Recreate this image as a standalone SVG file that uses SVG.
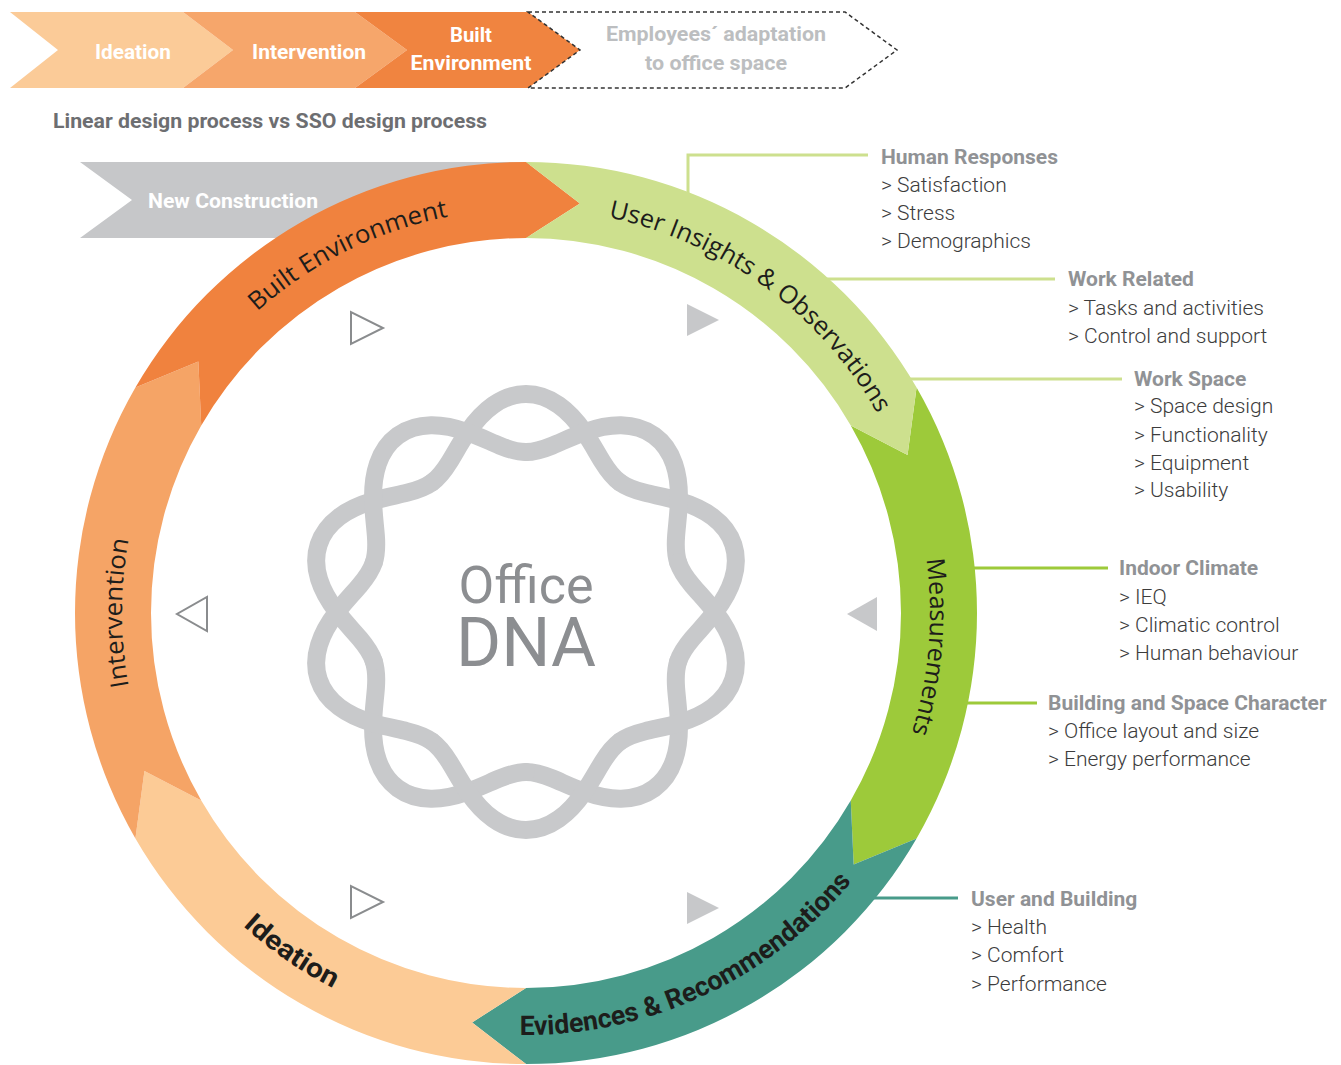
<svg xmlns="http://www.w3.org/2000/svg" width="1341" height="1065" viewBox="0 0 1341 1065">
<style>
.ban{font-family:Roboto,"Liberation Sans",sans-serif;font-weight:700;font-size:20px;fill:#ffffff;text-anchor:middle}
.ban2{font-family:Roboto,"Liberation Sans",sans-serif;font-weight:700;font-size:20px;fill:#bcbec0;text-anchor:middle}
.title{font-family:Roboto,"Liberation Sans",sans-serif;font-weight:700;font-size:20px;fill:#6d6e71}
.hdr{font-family:Roboto,"Liberation Sans",sans-serif;font-weight:700;font-size:21px;fill:#909295}
.itm{font-family:Roboto,"Liberation Sans",sans-serif;font-weight:300;font-size:21px;fill:#3c3c3c}
.ring{font-family:"Open Sans","Liberation Sans",sans-serif;font-size:25px;fill:#1d1d1b;text-anchor:middle}
.ringb{font-family:Roboto,"Liberation Sans",sans-serif;font-weight:700;font-size:27px;fill:#1d1d1b;text-anchor:middle}
.lnk{fill:none;stroke-width:3}
.lg{stroke:#cde08e}.lm{stroke:#9dca3a}.lt{stroke:#489b8a}
.trio{fill:#ffffff;stroke:#8a8c8e;stroke-width:2;stroke-linejoin:miter}
.trif{fill:#c7c8ca}
.dna{fill:none;stroke:#c8c9cb;stroke-width:18;stroke-linecap:round}
.dnat{font-family:Roboto,"Liberation Sans",sans-serif;fill:#8c8e91;text-anchor:middle}
</style>
<defs>
<path id="lobe" d="M -94.05,-129.44 C -87.27,-134.37 -81.92,-141.34 -76.5,-150.13 C -71.07,-158.92 -65.47,-169.47 -58.41,-179.75 C -51.34,-190.03 -42.77,-199.91 -32.77,-206.93 C -22.78,-213.95 -11.41,-218 0,-218 C 11.41,-218 22.78,-213.95 32.77,-206.93 C 42.77,-199.91 51.34,-190.03 58.41,-179.75 C 65.47,-169.47 71.07,-158.92 76.5,-150.13 C 81.92,-141.34 87.27,-134.37 94.05,-129.44"/>
<path id="cw" d="M 526,1017 A 404 404 0 0 1 122,613 A 404 404 0 0 1 526,209 A 404 404 0 0 1 930,613 A 404 404 0 0 1 526,1017"/>
<path id="ccw" d="M 104,613 A 422 422 0 0 0 526,1035 A 422 422 0 0 0 948,613"/>
</defs>

<g id="banner">
  <g id="ban-ideation">
    <polygon points="10,12 183,12 233,50 183,88 10,88 58,50" fill="#fbcb98"/>
    <text class="ban" x="133" y="59" textLength="76" lengthAdjust="spacingAndGlyphs">Ideation</text>
  </g>
  <g id="ban-intervention">
    <polygon points="183,12 355,12 407,50 355,88 183,88 233,50" fill="#f6a66b"/>
    <text class="ban" x="309" y="59" textLength="114" lengthAdjust="spacingAndGlyphs">Intervention</text>
  </g>
  <g id="ban-built">
    <polygon points="355,12 528,12 580,50 528,88 355,88 407,50" fill="#f08440"/>
    <text class="ban" x="471" y="42" textLength="42" lengthAdjust="spacingAndGlyphs">Built</text>
    <text class="ban" x="471" y="70" textLength="121" lengthAdjust="spacingAndGlyphs">Environment</text>
  </g>
  <g id="ban-adaptation">
    <polygon points="528,12 845,12 897,50 845,88 528,88 580,50" fill="none" stroke="#333333" stroke-width="1.5" stroke-dasharray="4 3"/>
    <text class="ban2" x="716" y="41" textLength="220" lengthAdjust="spacingAndGlyphs">Employees´ adaptation</text>
    <text class="ban2" x="716" y="70" textLength="142" lengthAdjust="spacingAndGlyphs">to office space</text>
  </g>
</g>

<g id="title">
  <text class="title" x="53" y="128" textLength="434" lengthAdjust="spacingAndGlyphs">Linear design process vs SSO design process</text>
</g>

<g id="new-construction">
  <polygon points="80,162 530,162 530,238 80,238 132,200" fill="#c6c7c9"/>
  <text class="ban" x="233" y="208" textLength="170" lengthAdjust="spacingAndGlyphs">New Construction</text>
</g>

<g id="connectors">
  <polyline class="lnk lg" points="688,196 688,155 868,155"/>
  <line class="lnk lg" x1="820" y1="279" x2="1055" y2="279"/>
  <line class="lnk lg" x1="905" y1="379" x2="1122" y2="379"/>
  <line class="lnk lm" x1="968" y1="568" x2="1108" y2="568"/>
  <line class="lnk lm" x1="960" y1="703" x2="1037" y2="703"/>
  <line class="lnk lt" x1="868" y1="898" x2="958" y2="898"/>
</g>

<g id="ring">
  <g id="seg-measurements"><path d="M 916.58,387.5 A 451 451 0 0 1 916.58,838.5 L 853.65,864.42 L 850.76,800.5 A 375 375 0 0 0 850.76,425.5 L 907.56,454.95 Z" fill="#9dca3a"/>
    <text class="ring"><textPath href="#cw" startOffset="1936.9" textLength="176" lengthAdjust="spacingAndGlyphs">Measurements</textPath></text></g>
  <g id="seg-evidences"><path d="M 916.58,838.5 A 451 451 0 0 1 526,1064 L 472.09,1022.47 L 526,988 A 375 375 0 0 0 850.76,800.5 L 853.65,864.42 Z" fill="#489b8a"/>
    <text class="ringb"><textPath href="#ccw" startOffset="845.5" textLength="378" lengthAdjust="spacingAndGlyphs">Evidences &amp; Recommendations</textPath></text></g>
  <g id="seg-ideation"><path d="M 526,1064 A 451 451 0 0 1 135.42,838.5 L 144.44,771.05 L 201.24,800.5 A 375 375 0 0 0 526,988 L 472.09,1022.47 Z" fill="#fccb96"/>
    <text class="ringb"><textPath href="#ccw" startOffset="407.3" textLength="110" lengthAdjust="spacingAndGlyphs">Ideation</textPath></text></g>
  <g id="seg-intervention"><path d="M 135.42,838.5 A 451 451 0 0 1 135.42,387.5 L 198.35,361.58 L 201.24,425.5 A 375 375 0 0 0 201.24,800.5 L 144.44,771.05 Z" fill="#f5a466"/>
    <text class="ring"><textPath href="#cw" startOffset="634.6" textLength="148" lengthAdjust="spacingAndGlyphs">Intervention</textPath></text></g>
  <g id="seg-built"><path d="M 135.42,387.5 A 451 451 0 0 1 526,162 L 579.91,203.53 L 526,238 A 375 375 0 0 0 201.24,425.5 L 198.35,361.58 Z" fill="#f0823e"/>
    <text class="ring"><textPath href="#cw" startOffset="1082.4" textLength="216" lengthAdjust="spacingAndGlyphs">Built Environment</textPath></text></g>
  <g id="seg-insights"><path d="M 526,162 A 451 451 0 0 1 916.58,387.5 L 907.56,454.95 L 850.76,425.5 A 375 375 0 0 0 526,238 L 579.91,203.53 Z" fill="#cde08e"/>
    <text class="ring"><textPath href="#cw" startOffset="1523.1" textLength="343" lengthAdjust="spacingAndGlyphs">User Insights &amp; Observations</textPath></text></g>
</g>

<g id="triangles">
  <polygon class="trio" points="351,312 351,344 383,328"/>
  <polygon class="trif" points="687,304 687,336 719,320"/>
  <polygon class="trif" points="877,597 877,631 847,614"/>
  <polygon class="trif" points="687,892 687,924 719,908"/>
  <polygon class="trio" points="351,886 351,918 383,902"/>
  <polygon class="trio" points="207,597 207,631 177,614"/>
</g>

<g id="office-dna">
  <g transform="translate(526,612)" class="dna">
    <use href="#lobe"/>
    <use href="#lobe" transform="rotate(72)"/>
    <use href="#lobe" transform="rotate(144)"/>
    <use href="#lobe" transform="rotate(216)"/>
    <use href="#lobe" transform="rotate(288)"/>
    <use href="#lobe" transform="rotate(36)"/>
    <use href="#lobe" transform="rotate(108)"/>
    <use href="#lobe" transform="rotate(180)"/>
    <use href="#lobe" transform="rotate(252)"/>
    <use href="#lobe" transform="rotate(324)"/>
  </g>
  <text class="dnat" x="526" y="603" font-size="52">Office</text>
  <text class="dnat" x="526" y="666" font-size="69">DNA</text>
</g>

<g id="lbl-human">
  <text class="hdr" x="881" y="164">Human Responses</text>
  <text class="itm" x="881" y="192">&gt; Satisfaction</text>
  <text class="itm" x="881" y="220">&gt; Stress</text>
  <text class="itm" x="881" y="248">&gt; Demographics</text>
</g>
<g id="lbl-work-related">
  <text class="hdr" x="1068" y="286">Work Related</text>
  <text class="itm" x="1068" y="315">&gt; Tasks and activities</text>
  <text class="itm" x="1068" y="343">&gt; Control and support</text>
</g>
<g id="lbl-work-space">
  <text class="hdr" x="1134" y="386">Work Space</text>
  <text class="itm" x="1134" y="413">&gt; Space design</text>
  <text class="itm" x="1134" y="442">&gt; Functionality</text>
  <text class="itm" x="1134" y="470">&gt; Equipment</text>
  <text class="itm" x="1134" y="497">&gt; Usability</text>
</g>
<g id="lbl-indoor">
  <text class="hdr" x="1119" y="575">Indoor Climate</text>
  <text class="itm" x="1119" y="604">&gt; IEQ</text>
  <text class="itm" x="1119" y="632">&gt; Climatic control</text>
  <text class="itm" x="1119" y="660">&gt; Human behaviour</text>
</g>
<g id="lbl-building">
  <text class="hdr" x="1048" y="710">Building and Space Character</text>
  <text class="itm" x="1048" y="738">&gt; Office layout and size</text>
  <text class="itm" x="1048" y="766">&gt; Energy performance</text>
</g>
<g id="lbl-user-building">
  <text class="hdr" x="971" y="906">User and Building</text>
  <text class="itm" x="971" y="934">&gt; Health</text>
  <text class="itm" x="971" y="962">&gt; Comfort</text>
  <text class="itm" x="971" y="991">&gt; Performance</text>
</g>
</svg>
